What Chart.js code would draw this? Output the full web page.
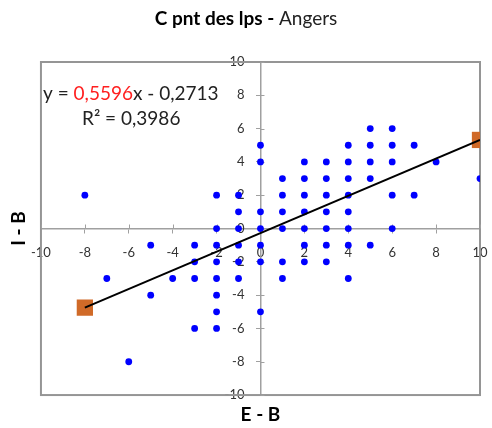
<!DOCTYPE html>
<html>
<head>
<meta charset="utf-8">
<script src="https://cdn.jsdelivr.net/npm/chart.js@4/dist/chart.umd.min.js"></script>
<style>
  html, body { margin: 0; padding: 0; background: #fff; }
  #wrap { width: 492px; height: 428px; }
</style>
</head>
<body>
<div id="wrap"><canvas id="c" width="492" height="428"></canvas></div>
<script>
// ── Data ────────────────────────────────────────────────────
const ptsX = [5, 6,
  0, 4, 5, 6, 7,
  0, 2, 3, 4, 5, 6, 8,
  1, 2, 3, 4, 5, 10,
  -8, -2, -1, 1, 2, 3, 4, 6, 7,
  -1, 0, 1, 2, 3, 4,
  -2, -1, 0, 1, 2, 3, 4, 6,
  -5, -3, -2, -1, 0, 2, 3, 4, 5,
  -3, -2, -1, 0, 1, 2, 3,
  -7, -4, -3, -2, -1, 1, 4,
  -5, -2,
  -2, 0,
  -3, -2,
  -6];
const ptsY = [6, 6,
  5, 5, 5, 5, 5,
  4, 4, 4, 4, 4, 4, 4,
  3, 3, 3, 3, 3, 3,
  2, 2, 2, 2, 2, 2, 2, 2, 2,
  1, 1, 1, 1, 1, 1,
  0, 0, 0, 0, 0, 0, 0, 0,
  -1, -1, -1, -1, -1, -1, -1, -1, -1,
  -2, -2, -2, -2, -2, -2, -2,
  -3, -3, -3, -3, -3, -3, -3,
  -4, -4,
  -5, -5,
  -6, -6,
  -8];

// extrémités de la droite de tendance (carrés orange)
const trendX = [-8, 10];
const trendY = [-4.75, 5.32];

const titleBold = 'C pnt des lps - ';
const titleRest = 'Angers';
const eqParts   = ['y = ', '0,5596', 'x - 0,2713'];
const r2Text    = 'R² = 0,3986';
const xTitle    = 'E - B';
const yTitle    = 'I - B';

// ── Style ───────────────────────────────────────────────────
const FONT      = "Lato, 'Open Sans', sans-serif";
const AXIS_GRAY = '#a0a0a0';
const FRAME     = '#959595';
const TXT       = '#333';

const toXY = (xs, ys) => xs.map((x, i) => ({ x, y: ys[i] }));

// cadre, demi-graduations intérieures, titre et équation
const decor = {
  id: 'decor',
  beforeDatasetsDraw(chart) {
    const { ctx, chartArea: a, scales } = chart;
    ctx.save();
    ctx.strokeStyle = FRAME;
    ctx.lineWidth = 2;
    ctx.strokeRect(a.left, a.top, a.right - a.left, a.bottom - a.top);

    // graduations en croix : la moitié intérieure
    const x0 = scales.x.getPixelForValue(0);
    const y0 = scales.y.getPixelForValue(0);
    ctx.strokeStyle = AXIS_GRAY;
    ctx.lineWidth = 1;
    ctx.beginPath();
    scales.x.ticks.forEach(t => {
      const px = Math.round(scales.x.getPixelForValue(t.value)) + 0.5;
      ctx.moveTo(px, y0);
      ctx.lineTo(px, y0 - 4);
    });
    scales.y.ticks.forEach(t => {
      const py = Math.round(scales.y.getPixelForValue(t.value)) + 0.5;
      ctx.moveTo(x0, py);
      ctx.lineTo(x0 + 4, py);
    });
    ctx.stroke();
    ctx.restore();
  },
  afterDraw(chart) {
    const { ctx } = chart;
    ctx.save();
    ctx.textBaseline = 'middle';

    // titre : partie grasse + partie normale
    ctx.font = `bold 19px ${FONT}`;
    const w1 = ctx.measureText(titleBold).width;
    ctx.font = `19px ${FONT}`;
    const w2 = ctx.measureText(titleRest).width;
    const tx = 246 - (w1 + w2) / 2;
    ctx.fillStyle = '#000';
    ctx.font = `bold 19px ${FONT}`;
    ctx.fillText(titleBold, tx, 19);
    ctx.fillStyle = '#222';
    ctx.font = `19px ${FONT}`;
    ctx.fillText(titleRest, tx + w1, 19);

    // équation de la droite
    ctx.font = `19px ${FONT}`;
    let ex = 43;
    const colors = ['#222', '#ff2020', '#222'];
    eqParts.forEach((p, i) => {
      ctx.fillStyle = colors[i];
      ctx.fillText(p, ex, 94);
      ex += ctx.measureText(p).width;
    });
    ctx.fillStyle = '#222';
    ctx.fillText(r2Text, 82, 119);
    ctx.restore();
  }
};

const centerTicks = {
  stepSize: 2,
  color: TXT,
  font: { family: FONT, size: 13 },
  padding: 12,
  maxRotation: 0,
  autoSkip: false,
};

// les axes centraux ne doivent pas rogner la zone de tracé
const noPad = s => { s.paddingLeft = 0; s.paddingRight = 0; s.paddingTop = 0; s.paddingBottom = 0; };

new Chart(document.getElementById('c'), {
  type: 'scatter',
  data: {
    datasets: [
      {
        // la droite, par-dessus les carrés
        type: 'line',
        data: toXY(trendX, trendY),
        borderColor: '#000',
        borderWidth: 2,
        pointRadius: 0,
        fill: false,
        xAxisID: 'x',
        yAxisID: 'y',
      },
      {
        data: toXY(trendX, trendY),
        pointStyle: 'rect',
        pointRadius: 11.5,
        pointBackgroundColor: '#d06a28',
        pointBorderColor: '#d06a28',
        pointBorderWidth: 0,
        xAxisID: 'x',
        yAxisID: 'y',
      },
      {
        data: toXY(ptsX, ptsY),
        pointRadius: 3.4,
        pointBackgroundColor: '#0000ff',
        pointBorderColor: '#0000ff',
        pointBorderWidth: 0,
        xAxisID: 'x',
        yAxisID: 'y',
      },
    ],
  },
  options: {
    responsive: false,
    animation: false,
    layout: { padding: { top: 62, right: 12, left: 0, bottom: 0 } },
    plugins: {
      legend: { display: false },
      tooltip: { enabled: false },
      title: { display: false },
    },
    scales: {
      x: {
        type: 'linear',
        position: 'center',
        min: -10, max: 10,
        ticks: centerTicks,
        grid: { drawOnChartArea: false, drawTicks: true, tickLength: 4, color: AXIS_GRAY },
        border: { display: true, color: AXIS_GRAY, width: 1.5 },
        afterFit: noPad,
      },
      y: {
        type: 'linear',
        position: 'center',
        min: -10, max: 10,
        ticks: centerTicks,
        grid: { drawOnChartArea: false, drawTicks: true, tickLength: 4, color: AXIS_GRAY },
        border: { display: true, color: AXIS_GRAY, width: 1.5 },
        afterFit: noPad,
      },
      x2: {
        type: 'linear',
        position: 'bottom',
        min: -10, max: 10,
        ticks: { display: false },
        grid: { display: false, drawTicks: false },
        border: { display: false },
        title: {
          display: true, text: xTitle, color: '#000',
          font: { family: FONT, size: 19, weight: 'bold', lineHeight: 1.05 },
          padding: { top: 10, bottom: 3 },
        },
      },
      y2: {
        type: 'linear',
        position: 'left',
        min: -10, max: 10,
        ticks: { display: false },
        grid: { display: false, drawTicks: false },
        border: { display: false },
        title: {
          display: true, text: yTitle, color: '#000',
          font: { family: FONT, size: 19, weight: 'bold', lineHeight: 1.05 },
          padding: { top: 9, bottom: 12 },
        },
      },
    },
  },
  plugins: [decor],
});
</script>
</body>
</html>
